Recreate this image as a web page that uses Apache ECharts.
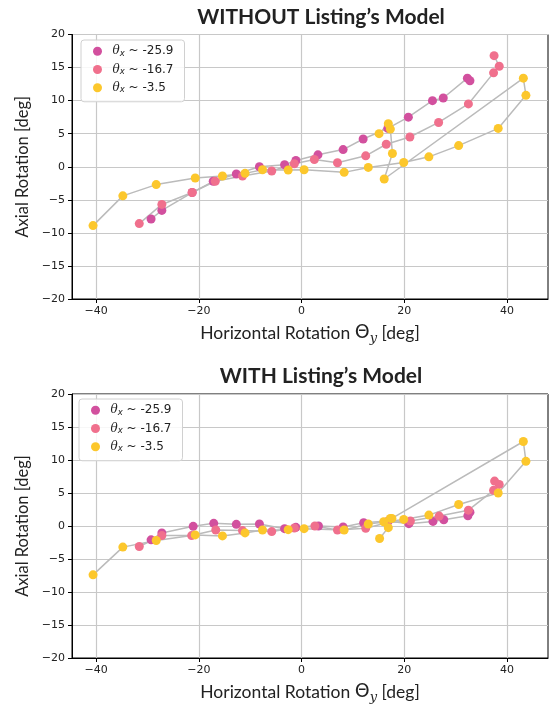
<!DOCTYPE html>
<html>
<head>
<meta charset="utf-8">
<script src="https://cdn.jsdelivr.net/npm/echarts@6/dist/echarts.min.js"></script>
<style>
  html, body { margin: 0; padding: 0; background: #fff; }
  #main { width: 550px; height: 707px; }
</style>
</head>
<body>
<div id="main"></div>
<script>
// series names (legend)
var names = ['θx ~ -25.9', 'θx ~ -16.7', 'θx ~ -3.5'];
var legendVals = ['-25.9', '-16.7', '-3.5'];
var colors = ['#d2509e', '#f0708d', '#fcc72c'];

// x tick values
var xTicks = [-40, -20, 0, 20, 40];

// WITHOUT Listing's model
var magX1 = [-29.3, -27.2, -21.3, -17.2, -12.7, -8.2, -3.3, -1.1, 3.2, 8.1, 12.0, 16.8, 20.8, 25.5, 27.6, 32.3, 32.8];
var magY1 = [-7.9, -6.6, -3.9, -2.2, -1.1, 0.0, 0.3, 0.95, 1.8, 2.6, 4.2, 5.8, 7.5, 10.0, 10.4, 13.4, 13.0];
var pinkX1 = [-31.6, -27.2, -21.3, -16.8, -11.5, -5.8, -1.4, 2.5, 7.0, 12.5, 16.5, 21.1, 26.7, 32.5, 37.4, 38.5, 37.5];
var pinkY1 = [-8.6, -5.7, -3.9, -2.2, -1.4, -0.65, 0.45, 1.1, 0.6, 1.65, 3.4, 4.5, 6.7, 9.5, 14.2, 15.2, 16.8];
var yelX1 = [-40.6, -34.8, -28.3, -20.7, -15.4, -11.0, -7.6, -2.6, 0.5, 8.3, 13.0, 19.9, 24.8, 30.6, 38.3, 43.7, 43.2, 16.1, 17.7, 17.3, 16.9, 15.1];
var yelY1 = [-8.9, -4.4, -2.7, -1.7, -1.4, -1.0, -0.45, -0.5, -0.45, -0.85, -0.1, 0.65, 1.5, 3.2, 5.8, 10.8, 13.4, -1.85, 2.0, 5.7, 6.5, 5.0];

// WITH Listing's model
var magX2 = [-29.3, -27.2, -21.1, -17.1, -12.7, -8.2, -3.3, -1.1, 3.3, 8.1, 12.1, 16.9, 20.9, 25.6, 27.7, 32.4, 32.8];
var magY2 = [-2.1, -1.05, -0.05, 0.4, 0.25, 0.3, -0.4, -0.2, 0.0, -0.15, 0.5, 0.75, 0.35, 0.7, 0.95, 1.55, 2.1];
var pinkX2 = [-31.6, -27.2, -21.4, -16.7, -11.5, -5.8, -1.4, 2.6, 7.0, 12.5, 16.6, 21.2, 26.8, 32.5, 37.4, 38.5, 37.6];
var pinkY2 = [-3.1, -1.45, -1.45, -0.6, -0.7, -0.85, -0.3, 0.0, -0.6, -0.35, 0.5, 0.75, 1.5, 2.4, 5.4, 6.3, 6.8];
var yelX2 = [-40.6, -34.8, -28.3, -20.7, -15.4, -11.0, -7.6, -2.6, 0.5, 8.3, 13.0, 19.9, 24.8, 30.6, 38.3, 43.7, 43.2, 17.6, 17.3, 16.0, 16.9, 15.2];
var yelY2 = [-7.4, -3.2, -2.2, -1.35, -1.5, -1.05, -0.6, -0.55, -0.4, -0.6, 0.3, 1.0, 1.65, 3.25, 5.0, 9.8, 12.8, 1.15, 1.15, 0.65, -0.25, -1.9];

function pairs(xs, ys) {
    return xs.map(function (x, i) { return [x, ys[i]]; });
}

var groups = [
    [pairs(magX1, magY1), pairs(pinkX1, pinkY1), pairs(yelX1, yelY1)],
    [pairs(magX2, magY2), pairs(pinkX2, pinkY2), pairs(yelX2, yelY2)]
];

var minus = function (v) { return String(v).replace('-', '\u2212'); };

function xAxisOpt(idx) {
    return {
        type: 'value', gridIndex: idx, min: -44.7, max: 48.0,
        name: '{a|Horizontal Rotation }{b|Θ}{c|y}{a| [deg]}',
        nameLocation: 'middle', nameGap: 23,
        nameTextStyle: {
            color: '#222',
            rich: {
                a: { fontSize: 17.5, fontFamily: 'Lato', color: '#222' },
                b: { fontSize: 19, fontFamily: 'DejaVu Sans', color: '#222' },
                c: { fontSize: 13, fontFamily: 'DejaVu Serif', fontStyle: 'italic', color: '#222', padding: [10, 0, 0, 0] }
            }
        },
        axisLine: { show: true, onZero: false, lineStyle: { color: '#000', width: 1 } },
        axisTick: { show: true, inside: false, length: 4, customValues: xTicks, lineStyle: { color: '#000' } },
        axisLabel: { customValues: xTicks, fontSize: 11, fontFamily: 'DejaVu Sans', color: '#222', margin: 7, formatter: minus },
        splitLine: { show: true, lineStyle: { color: '#c8c8c8', width: 1.2 } }
    };
}

function yAxisOpt(idx) {
    return {
        type: 'value', gridIndex: idx, min: -20, max: 20, interval: 5,
        name: 'Axial Rotation [deg]',
        nameLocation: 'middle', nameGap: 40,
        nameTextStyle: { fontSize: 16.5, fontFamily: 'Lato', color: '#222' },
        axisLine: { show: true, onZero: false, lineStyle: { color: '#000', width: 1 } },
        axisTick: { show: true, inside: false, length: 4, lineStyle: { color: '#000' } },
        axisLabel: { fontSize: 11, fontFamily: 'DejaVu Sans', color: '#222', margin: 7, formatter: minus },
        splitLine: { show: true, lineStyle: { color: '#c8c8c8', width: 1.2 } }
    };
}

function legendOpt(left, top) {
    return {
        orient: 'vertical', left: left, top: top,
        data: names, icon: 'circle',
        itemWidth: 20, itemHeight: 9, itemGap: 5,
        padding: [5, 11, 7, 12],
        borderColor: '#d0d0d0', borderWidth: 1, borderRadius: 3,
        backgroundColor: 'rgba(255,255,255,0.85)',
        formatter: function (name) {
            return '{t|θ}{s|x}{n| ~ ' + legendVals[names.indexOf(name)] + '}';
        },
        textStyle: {
            lineHeight: 12.5,
            rich: {
                t: { fontSize: 12, fontFamily: 'DejaVu Serif', fontStyle: 'italic', color: '#222' },
                s: { fontSize: 8.5, fontFamily: 'DejaVu Sans', fontStyle: 'italic', color: '#222', padding: [5, 0, 0, 0] },
                n: { fontSize: 12, fontFamily: 'DejaVu Sans', color: '#222' }
            }
        }
    };
}

function titleOpt(top, bold) {
    return {
        text: '{b|' + bold + '}{n| Listing’s Model}',
        left: 316, top: top, textAlign: 'center',
        textStyle: {
            rich: {
                b: { fontSize: 21, fontWeight: 'bold', fontFamily: 'Lato', color: '#222' },
                n: { fontSize: 21, fontFamily: 'Lato', color: '#222' }
            }
        }
    };
}

var series = [];
groups.forEach(function (g, gi) {
    // gray connecting lines first
    g.forEach(function (d) {
        series.push({
            type: 'line', xAxisIndex: gi, yAxisIndex: gi, data: d,
            showSymbol: false, silent: true, z: 2,
            lineStyle: { color: '#bbbbbb', width: 1.5 }
        });
    });
    // colored points on top
    g.forEach(function (d, si) {
        series.push({
            type: 'scatter', name: names[si], xAxisIndex: gi, yAxisIndex: gi, data: d,
            symbolSize: 9, z: 3,
            itemStyle: { color: colors[si], opacity: 1 }
        });
    });
});

var chart = echarts.init(document.getElementById('main'));
chart.setOption({
    animation: false,
    title: [titleOpt(2, 'WITHOUT'), titleOpt(361, 'WITH')],
    legend: [legendOpt(81, 40), legendOpt(79, 399)],
    grid: [
        { left: 72, top: 34.5, width: 476, height: 264.5, show: true, borderColor: '#000', borderWidth: 1 },
        { left: 72, top: 394, width: 476, height: 264, show: true, borderColor: '#000', borderWidth: 1 }
    ],
    xAxis: [xAxisOpt(0), xAxisOpt(1)],
    yAxis: [yAxisOpt(0), yAxisOpt(1)],
    series: series
});
</script>
</body>
</html>
